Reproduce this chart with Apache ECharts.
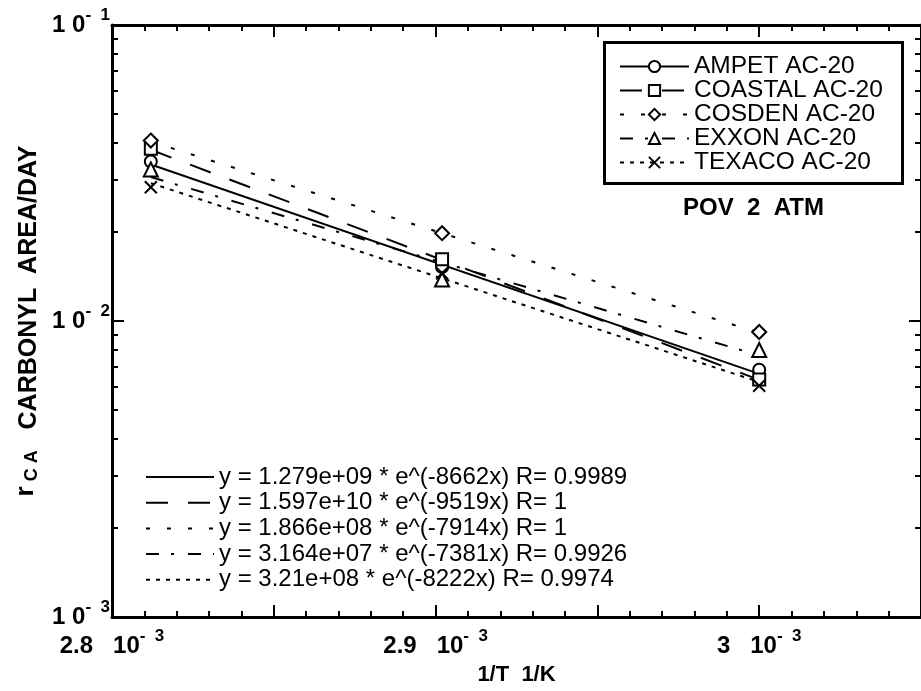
<!DOCTYPE html>
<html>
<head>
<meta charset="utf-8">
<script src="https://cdn.jsdelivr.net/npm/echarts@6/dist/echarts.min.js"></script>
<style>
  html, body { margin: 0; padding: 0; background: #fff; }
  #chart { width: 921px; height: 691px; }
</style>
</head>
<body>
<div id="chart"></div>
<script>
// Reciprocal aging temperature, 1/K
const invT = [0.002812, 0.002902, 0.003000];

// Carbonyl area growth rate per day for each asphalt
const asphalts = ['AMPET AC-20', 'COASTAL AC-20', 'COSDEN AC-20', 'EXXON AC-20', 'TEXACO AC-20'];
const ampetRate   = [0.0346, 0.0152, 0.00684];
const coastalRate = [0.0382, 0.01617, 0.00635];
const cosdenRate  = [0.0407, 0.0198, 0.00918];
const exxonRate   = [0.0325, 0.0138, 0.00798];
const texacoRate  = [0.0283, 0.0145, 0.00604];

// Arrhenius fits y = A * e^(-B x)
const fitPrefactor = [1.279e9, 1.597e10, 1.866e8, 3.164e7, 3.21e8];
const fitSlope = [8662, 9519, 7914, 7381, 8222];
const fitR = ['0.9989', '1', '1', '0.9926', '0.9974'];

// Tick positions
const xLabelTicks = [0.0028, 0.0029, 0.0030];
const xMinorTicks = [0.00281, 0.00282, 0.00283, 0.00284, 0.00286, 0.00287, 0.00288, 0.00289,
                     0.00291, 0.00292, 0.00293, 0.00294, 0.00296, 0.00297, 0.00298, 0.00299,
                     0.00301, 0.00302, 0.00303, 0.00304];
const yMinorTicks = [0.002, 0.003, 0.004, 0.005, 0.006, 0.007, 0.008, 0.009,
                     0.02, 0.03, 0.04, 0.05, 0.06, 0.07, 0.08, 0.09];

const rates = [ampetRate, coastalRate, cosdenRate, exxonRate, texacoRate];
const markers = ['emptyCircle', 'emptyRect', 'emptyDiamond', 'emptyTriangle', 'path://M0,0L10,10M10,0L0,10'];
const markerSizes = [12, 12, 14, 14, 12];
const dashes = ['solid', [22, 20], [4, 17], [13, 12, 3, 14], [4, 6]];

const FONT = "'Liberation Sans', Arial, Helvetica, sans-serif";

function sciText(a) {
  const parts = a.toExponential().split('e');
  const n = parseInt(parts[1], 10);
  return parts[0] + 'e' + (n < 0 ? '-' : '+') + String(Math.abs(n)).padStart(2, '0');
}
const fitLabels = fitPrefactor.map((a, i) =>
  'y = ' + sciText(a) + ' * e^(-' + fitSlope[i] + 'x) R= ' + fitR[i]);

const series = [];
rates.forEach((r, i) => {
  const a = fitPrefactor[i], b = fitSlope[i];
  const x0 = invT[0], x1 = invT[invT.length - 1];
  series.push({
    type: 'line',
    name: fitLabels[i],
    data: [[x0, a * Math.exp(-b * x0)], [x1, a * Math.exp(-b * x1)]],
    symbol: 'none',
    silent: true,
    z: 2,
    lineStyle: { color: '#000', width: 2, type: dashes[i] }
  });
});
rates.forEach((r, i) => {
  series.push({
    type: 'line',
    name: asphalts[i],
    data: invT.map((x, k) => [x, r[k]]),
    symbol: markers[i],
    symbolSize: markerSizes[i],
    z: 3,
    lineStyle: { color: 'rgba(0,0,0,0)', width: 2, type: dashes[i] },
    itemStyle: { color: '#000', borderColor: '#000', borderWidth: 2 }
  });
});

const axisLineStyle = { show: true, onZero: false, lineStyle: { color: '#000', width: 3 } };
const tickLine = { color: '#000', width: 2 };

// Major x ticks every 0.05e-3; the 0.01e-3 ticks sit on a companion axis
const xMajor = {
  type: 'value',
  min: 0.0028,
  max: 0.00305,
  interval: 0.00005,
  axisLine: axisLineStyle,
  axisTick: { show: true, inside: true, length: 12, lineStyle: tickLine },
  splitLine: { show: false }
};
const xMinor = {
  type: 'value',
  min: 0.0028,
  max: 0.00305,
  interval: 0.00005,
  axisLine: { show: false },
  axisTick: { show: true, inside: true, length: 6, lineStyle: tickLine, customValues: xMinorTicks },
  axisLabel: { show: false },
  splitLine: { show: false }
};

const yCommon = {
  type: 'log',
  logBase: 10,
  min: 0.001,
  max: 0.1,
  splitLine: { show: false }
};

const labelRich = {
  a: { fontFamily: FONT, fontSize: 24, fontWeight: 'bold', color: '#000', lineHeight: 36 },
  s: { fontFamily: FONT, fontSize: 17, fontWeight: 'bold', color: '#000', lineHeight: 16, verticalAlign: 'top' }
};

const option = {
  animation: false,
  backgroundColor: '#fff',
  grid: { left: 112, right: -6, top: 25, bottom: 72 },
  title: {
    text: 'POV  2  ATM',
    left: 683,
    top: 196,
    padding: 0,
    textStyle: { fontFamily: FONT, fontSize: 24, fontWeight: 'bold', color: '#000' }
  },
  // Frame around the asphalt legend
  graphic: [{
    type: 'rect',
    left: 603,
    top: 41,
    z: 3,
    shape: { width: 298, height: 141 },
    style: { fill: '#fff', stroke: '#000', lineWidth: 3 }
  }],
  legend: [
    {
      data: asphalts,
      orient: 'vertical',
      left: 619,
      top: 54,
      padding: 0,
      itemWidth: 69,
      itemHeight: 14,
      itemGap: -1,
      selectedMode: false,
      z: 5,
      lineStyle: { color: '#000', width: 2 },
      textStyle: { fontFamily: FONT, fontSize: 24.5, lineHeight: 22, color: '#000' }
    },
    {
      data: fitLabels,
      orient: 'vertical',
      left: 145,
      top: 465,
      padding: 0,
      itemWidth: 68,
      itemHeight: 14,
      itemGap: 1.7,
      selectedMode: false,
      lineStyle: { color: '#000', width: 2 },
      itemStyle: { color: 'rgba(0,0,0,0)', borderColor: 'rgba(0,0,0,0)', borderWidth: 0 },
      textStyle: { fontFamily: FONT, fontSize: 24, lineHeight: 24, color: '#000' }
    }
  ],
  xAxis: [
    Object.assign({}, xMajor, {
      position: 'bottom',
      name: '1/T  1/K',
      nameLocation: 'middle',
      nameGap: 47,
      nameTextStyle: { fontFamily: FONT, fontSize: 22, fontWeight: 'bold', color: '#000' },
      axisLabel: {
        show: true,
        customValues: xLabelTicks,
        margin: 11,
        formatter: function (v) {
          const m = Math.round(v * 1e4);
          if (Math.abs(v * 1e4 - m) > 1e-6) return '';
          return '{a|' + String(m / 10) + '   10}{s|-  3}';
        },
        rich: labelRich
      }
    }),
    Object.assign({}, xMajor, { position: 'top', axisLabel: { show: false } }),
    Object.assign({}, xMinor, { position: 'bottom' }),
    Object.assign({}, xMinor, { position: 'top' })
  ],
  yAxis: [
    Object.assign({}, yCommon, {
      position: 'left',
      axisLine: axisLineStyle,
      axisTick: { show: true, inside: true, length: 12, lineStyle: tickLine },
      axisLabel: {
        show: true,
        margin: 2,
        formatter: function (v) {
          const e = Math.round(Math.log10(v));
          return '{a|1 0}{s|-  ' + Math.abs(e) + '}';
        },
        rich: labelRich
      },
      name: '{r|r}{c| C A}{m|   CARBONYL  AREA/DAY}',
      nameLocation: 'middle',
      nameRotate: 90,
      nameGap: 64,
      nameTextStyle: {
        rich: {
          r: { fontFamily: FONT, fontSize: 26, fontWeight: 'bold', color: '#000', lineHeight: 26, verticalAlign: 'top' },
          c: { fontFamily: FONT, fontSize: 18, fontWeight: 'bold', color: '#000', lineHeight: 18, verticalAlign: 'bottom' },
          m: { fontFamily: FONT, fontSize: 25, fontWeight: 'bold', color: '#000', lineHeight: 28, verticalAlign: 'bottom' }
        }
      }
    }),
    Object.assign({}, yCommon, {
      position: 'right',
      axisLine: axisLineStyle,
      axisTick: { show: true, inside: true, length: 12, lineStyle: tickLine },
      axisLabel: { show: false }
    }),
    Object.assign({}, yCommon, {
      position: 'left',
      axisLine: { show: false },
      axisTick: { show: true, inside: true, length: 6, lineStyle: tickLine, customValues: yMinorTicks },
      axisLabel: { show: false }
    }),
    Object.assign({}, yCommon, {
      position: 'right',
      axisLine: { show: false },
      axisTick: { show: true, inside: true, length: 6, lineStyle: tickLine, customValues: yMinorTicks },
      axisLabel: { show: false }
    })
  ],
  series: series
};

const chart = echarts.init(document.getElementById('chart'), null, { renderer: 'canvas' });
chart.setOption(option);
</script>
</body>
</html>
